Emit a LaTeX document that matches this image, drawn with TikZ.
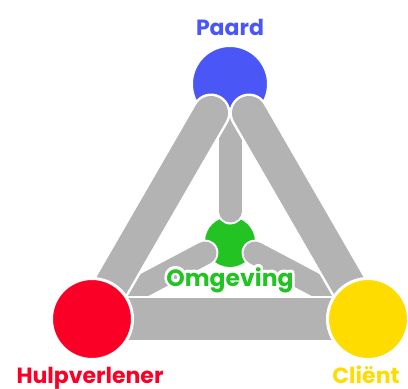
\documentclass[tikz,border=0pt]{standalone}
\usepackage{fontspec}
\usetikzlibrary{calc}
\newfontfamily\labelfont{Poppins}
\definecolor{pblue}{HTML}{4A56F6}
\definecolor{pred}{HTML}{FA0026}
\definecolor{pyellow}{HTML}{FFDC00}
\definecolor{pgreen}{HTML}{22C322}
\definecolor{pgrey}{HTML}{B3B3B3}
\begin{document}
\begin{tikzpicture}[x=1pt,y=-1pt,
  disc/.style={circle, inner sep=0pt, draw=white, line width=3pt},
  barout/.style={line width=39pt, white, line cap=round},
  barin/.style={line width=34pt, pgrey, line cap=round},
  spokeout/.style={line width=27pt, white, line cap=round},
  spokein/.style={line width=23pt, pgrey, line cap=round},
  lbl/.style={font=\labelfont\bfseries\fontsize{22}{26}\selectfont, anchor=base, inner sep=0pt},
  lblc/.style={font=\labelfont\bfseries\fontsize{23.5}{26}\selectfont, anchor=base, inner sep=0pt}]
\useasboundingbox (0,0) rectangle (408,389);
% vertices
\coordinate (B) at (230,84);
\coordinate (R) at (92,319);
\coordinate (Y) at (368,319);
\coordinate (G) at (230,242);
% bar ends
\coordinate (Lt) at (211,113);
\coordinate (Rt) at (249,113);
\coordinate (Vt) at (230,127);
\coordinate (Vb) at (230,211);
\coordinate (LLa) at (205,253);
\coordinate (LLb) at (72.5,323);
\coordinate (LRa) at (255,253);
\coordinate (LRb) at (387.5,323);
% blue circle
\node[disc, fill=pblue, minimum size=77pt] (blue) at (B) {};
% green hub
\node[circle, inner sep=0pt, fill=pgreen, minimum size=50pt] (green) at (G) {};
% spokes
\draw[spokeout] (Vt) -- (Vb);
\draw[spokein] (Vt) -- (Vb);
\draw[spokeout] (LLa) -- (LLb);
\draw[spokein] (LLa) -- (LLb);
\draw[spokeout] (LRa) -- (LRb);
\draw[spokein] (LRa) -- (LRb);
% diagonal bars
\draw[barout] (Lt) -- (R);
\draw[barin] (Lt) -- (R);
\draw[barout] (Rt) -- (Y);
\draw[barin] (Rt) -- (Y);
% bottom bar
\fill[white] (92,295.5) rectangle (368,342.5);
\fill[pgrey] (92,298) rectangle (368,340);
% red and yellow circles
\node[disc, fill=pred, minimum size=81pt] (red) at (R) {};
\node[disc, fill=pyellow, minimum size=81pt] (yellow) at (Y) {};
% labels
\node[lbl, text=pblue] (paard) at (230,35) {Paard};
\node[lbl, text=pred] (hulp) at (90,383) {Hulpverlener};
\node[lbl, text=pyellow] (client) at (366,383) {Cliënt};
\foreach \a in {0,30,...,330}
  \node[lblc, text=white, shift={(\a:2.5pt)}] (halo\a) at (230,286) {Omgeving};
\node[lblc, text=pgreen] (omg) at (230,286) {Omgeving};
\end{tikzpicture}
\end{document}
